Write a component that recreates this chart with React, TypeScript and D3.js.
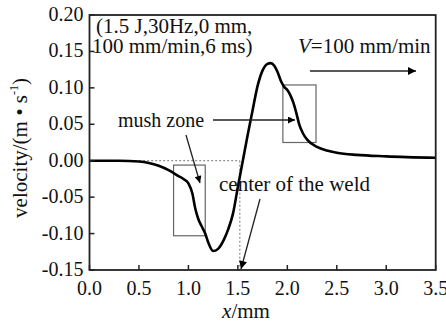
import React from "react";
import * as d3 from "d3";

const xTicks = [0, 0.5, 1.0, 1.5, 2.0, 2.5, 3.0, 3.5];
const yTicks = [-0.15, -0.1, -0.05, 0, 0.05, 0.1, 0.15, 0.2];

const curveX = [0, 0.3, 0.5, 0.6, 0.7, 0.8, 0.9, 0.95, 1.0, 1.04, 1.07, 1.1, 1.13, 1.17, 1.2, 1.25, 1.3, 1.36, 1.4, 1.45, 1.5, 1.55, 1.6, 1.65, 1.7, 1.75, 1.8, 1.83, 1.87, 1.9, 1.94, 1.97, 2.0, 2.03, 2.06, 2.09, 2.12, 2.16, 2.2, 2.3, 2.4, 2.5, 2.7, 3.0, 3.5];
const curveY = [0, 0, -0.001, -0.003, -0.007, -0.013, -0.021, -0.025, -0.031, -0.045, -0.066, -0.080, -0.089, -0.100, -0.112, -0.124, -0.121, -0.108, -0.095, -0.073, -0.036, 0.0, 0.036, 0.070, 0.103, 0.124, 0.133, 0.134, 0.130, 0.122, 0.108, 0.101, 0.097, 0.090, 0.080, 0.066, 0.050, 0.037, 0.029, 0.019, 0.014, 0.011, 0.008, 0.006, 0.004];

const boxLeft = [0.85, 1.17, -0.006, -0.103];
const boxRight = [1.955, 2.29, 0.104, 0.025];
const weldCenter = 1.52;

export default function App() {
  const W = 446, H = 324;
  const L = 89.5, R = 435.7, T = 15, B = 270;
  const x = d3.scaleLinear().domain([0, 3.5]).range([L, R]);
  const y = d3.scaleLinear().domain([-0.15, 0.2]).range([B, T]);
  const pts = curveX.map((v, i) => [v, curveY[i]] as [number, number]);
  const line = d3.line<[number, number]>().x(d => x(d[0])).y(d => y(d[1])).curve(d3.curveMonotoneX);
  const font = "'Liberation Serif', 'Times New Roman', serif";
  const fs = 20;
  const fa = 21;
  return (
    <svg width={W} height={H} style={{ position: "absolute", left: 0, top: 0, background: "#fff" }} fontFamily={font}>
      <defs>
        <marker id="ah" viewBox="0 0 10 10" refX="10" refY="5" markerWidth="9" markerHeight="7" markerUnits="userSpaceOnUse" orient="auto">
          <path d="M0,0 L10,5 L0,10 z" fill="#000" />
        </marker>
        <marker id="ah2" viewBox="0 0 10 10" refX="10" refY="5" markerWidth="12" markerHeight="8" markerUnits="userSpaceOnUse" orient="auto">
          <path d="M0,0 L10,5 L0,10 z" fill="#000" />
        </marker>
      </defs>
      <rect x={0} y={0} width={W} height={H} fill="#fff" />
      {/* dotted guide lines */}
      <line x1={x(0.3)} x2={x(weldCenter)} y1={y(0)} y2={y(0)} stroke="#777" strokeWidth={1} strokeDasharray="2,2" />
      <line x1={x(weldCenter)} x2={x(weldCenter)} y1={y(0)} y2={B} stroke="#777" strokeWidth={1} strokeDasharray="2,2" />
      {/* boxes */}
      <rect x={x(boxLeft[0])} y={y(boxLeft[2])} width={x(boxLeft[1]) - x(boxLeft[0])} height={y(boxLeft[3]) - y(boxLeft[2])} fill="none" stroke="#666" strokeWidth={1.2} />
      <rect x={x(boxRight[0])} y={y(boxRight[2])} width={x(boxRight[1]) - x(boxRight[0])} height={y(boxRight[3]) - y(boxRight[2])} fill="none" stroke="#666" strokeWidth={1.2} />
      {/* curve */}
      <path d={line(pts) || ""} fill="none" stroke="#000" strokeWidth={2.6} strokeLinejoin="round" />
      {/* frame */}
      <rect x={L} y={T} width={R - L} height={B - T} fill="none" stroke="#222" strokeWidth={1.8} />
      {/* ticks */}
      {xTicks.map(t => (
        <g key={"x" + t}>
          <line x1={x(t)} x2={x(t)} y1={B} y2={B - 5} stroke="#222" strokeWidth={1.5} />
          <text x={x(t)} y={B + 25} fontSize={fs} textAnchor="middle" fill="#111">{t.toFixed(1)}</text>
        </g>
      ))}
      {yTicks.map(t => (
        <g key={"y" + t}>
          <line x1={L} x2={L + 5} y1={y(t)} y2={y(t)} stroke="#222" strokeWidth={1.5} />
          <text x={L - 6} y={y(t) + 6} fontSize={fs} textAnchor="end" fill="#111">{(Math.abs(t) < 1e-9 ? 0 : t).toFixed(2)}</text>
        </g>
      ))}
      {/* axis labels */}
      <text x={246} y={318} fontSize={fa} textAnchor="middle" fill="#111"><tspan fontStyle="italic">x</tspan>/mm</text>
      <text transform="translate(27,148) rotate(-90)" fontSize={fa} textAnchor="middle" fill="#111">
        velocity/(m • s<tspan fontSize={12} dy={-9}>-1</tspan><tspan dy={9}>)</tspan>
      </text>
      {/* annotations */}
      <text x={96} y={33} fontSize={fa} fill="#111">(1.5 J,30Hz,0 mm,</text>
      <text x={92} y={53} fontSize={fa} fill="#111">100 mm/min,6 ms)</text>
      <text x={298} y={53} fontSize={fa} fill="#111"><tspan fontStyle="italic">V</tspan>=100 mm/min</text>
      <line x1={310} x2={416} y1={71} y2={71} stroke="#222" strokeWidth={1.5} markerEnd="url(#ah2)" />
      <text x={118} y={127} fontSize={fs} fill="#111">mush zone</text>
      <line x1={213} x2={295} y1={120} y2={120} stroke="#222" strokeWidth={1.3} markerEnd="url(#ah)" />
      <line x1={186} x2={200} y1={135} y2={183} stroke="#222" strokeWidth={1.3} markerEnd="url(#ah)" />
      <text x={219} y={191} fontSize={fa} fill="#111">center of the weld</text>
      <line x1={260} x2={241} y1={199} y2={269} stroke="#222" strokeWidth={1.3} markerEnd="url(#ah2)" />
    </svg>
  );
}
